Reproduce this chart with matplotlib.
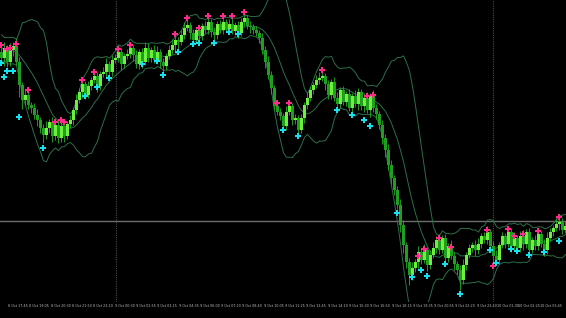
import numpy as np
import pandas as pd
import matplotlib
matplotlib.use('Agg')
import matplotlib.pyplot as plt

# USDJPY M5, closes (one value per bar)
close = [
    109.42, 109.52, 109.38, 109.50, 109.54, 109.38, 109.15, 109.00, 109.05, 108.95,
    108.92, 108.85, 108.80, 108.72, 108.65, 108.72, 108.78, 108.64, 108.75, 108.62,
    108.74, 108.64, 108.76, 108.80, 108.90, 109.00, 109.08, 109.16, 109.05, 109.14,
    109.20, 109.24, 109.14, 109.26, 109.28, 109.36, 109.28, 109.40, 109.42, 109.48,
    109.36, 109.44, 109.46, 109.52, 109.45, 109.36, 109.48, 109.38, 109.52, 109.42,
    109.50, 109.40, 109.48, 109.38, 109.34, 109.44, 109.50, 109.55, 109.60, 109.58,
    109.65, 109.72, 109.75, 109.67, 109.60, 109.70, 109.64, 109.74, 109.70, 109.78,
    109.68, 109.65, 109.76, 109.70, 109.78, 109.71, 109.76, 109.69, 109.75, 109.67,
    109.78, 109.82, 109.74, 109.73, 109.70, 109.67, 109.62, 109.50, 109.38, 109.25,
    109.12, 108.94, 108.88, 108.84, 108.74, 108.88, 108.94, 108.80, 108.82, 108.70,
    108.82, 108.95, 109.02, 109.10, 109.15, 109.20, 109.22, 109.24, 109.16, 109.05,
    109.18, 109.02, 108.96, 109.10, 108.98, 109.06, 108.92, 109.04, 108.96, 109.08,
    108.94, 109.02, 108.90, 109.04, 108.92, 108.86, 108.75, 108.62, 108.50, 108.35,
    108.22, 108.10, 107.95, 107.75, 107.55, 107.38, 107.25, 107.32, 107.38, 107.48,
    107.40, 107.50, 107.35, 107.45, 107.52, 107.60, 107.50, 107.62, 107.42, 107.54,
    107.44, 107.36, 107.30, 107.20, 107.35, 107.45, 107.52, 107.55, 107.50, 107.56,
    107.64, 107.60, 107.68, 107.54, 107.44, 107.40, 107.55, 107.64, 107.56, 107.68,
    107.54, 107.62, 107.52, 107.64, 107.56, 107.68, 107.50, 107.60, 107.54, 107.66,
    107.56, 107.50, 107.62, 107.68, 107.72, 107.76, 107.78, 107.70, 107.74,
]
first_open = 109.48
# closes just before the visible window (only used to warm up the bands)
history_close = [109.52, 109.58, 109.55, 109.62, 109.57, 109.50, 109.54, 109.60,
                 109.52, 109.47, 109.55, 109.50, 109.44, 109.48]

# wick lengths in pips
upper_wick = [
    4, 6, 3, 7, 4, 8, 5, 3, 6, 4,
    3, 5, 6, 3, 4, 7, 3, 5, 6, 4,
    6, 4, 3, 5, 3, 6, 4, 6, 3, 5,
    3, 6, 4, 3, 5, 6, 3, 5, 4, 6,
    4, 3, 5, 6, 3, 5, 3, 4, 6, 5,
    3, 5, 6, 3, 4, 3, 5, 6, 6, 3,
    5, 6, 7, 3, 4, 3, 5, 3, 5, 6,
    3, 5, 3, 4, 6, 3, 5, 6, 3, 4,
    4, 6, 3, 5, 3, 4, 3, 5, 4, 6,
    4, 3, 6, 4, 3, 6, 5, 3, 4, 3,
    4, 3, 6, 4, 3, 5, 6, 6, 3, 4,
    3, 5, 6, 3, 4, 3, 5, 3, 6, 4,
    3, 5, 6, 3, 6, 4, 3, 5, 4, 6,
    5, 3, 4, 6, 5, 3, 4, 6, 3, 6,
    4, 6, 3, 5, 6, 4, 6, 3, 4, 3,
    6, 4, 3, 5, 6, 3, 4, 3, 5, 6,
    3, 4, 6, 3, 5, 6, 3, 4, 3, 6,
    4, 6, 3, 5, 6, 3, 4, 3, 5, 6,
    3, 5, 6, 4, 3, 6, 7, 4, 5,
]
lower_wick = [
    6, 8, 5, 4, 6, 3, 12, 9, 5, 4,
    5, 4, 6, 5, 8, 4, 5, 6, 4, 5,
    4, 6, 3, 4, 5, 4, 3, 6, 4, 3,
    4, 3, 6, 4, 3, 5, 7, 4, 3, 4,
    6, 4, 3, 4, 6, 4, 5, 6, 3, 4,
    4, 3, 4, 6, 7, 4, 3, 4, 6, 7,
    3, 4, 3, 6, 4, 3, 7, 4, 3, 4,
    5, 8, 4, 3, 4, 3, 5, 3, 4, 5,
    3, 4, 3, 6, 4, 3, 5, 4, 6, 4,
    6, 4, 3, 4, 6, 4, 3, 5, 4, 5,
    3, 5, 4, 3, 4, 3, 4, 3, 6, 4,
    4, 3, 6, 4, 3, 4, 3, 5, 3, 6,
    4, 6, 3, 7, 4, 5, 4, 6, 7, 5,
    6, 5, 4, 7, 8, 6, 10, 5, 4, 6,
    4, 3, 6, 4, 3, 5, 4, 3, 6, 4,
    3, 6, 4, 10, 4, 5, 3, 4, 6, 4,
    4, 3, 4, 6, 7, 5, 4, 3, 4, 3,
    6, 4, 3, 4, 6, 4, 5, 3, 4, 4,
    3, 6, 4, 3, 4, 3, 6, 4, 3,
]

# signal arrows (bar index, price)
sell_idx = [0, 2, 3, 5, 9, 18, 20, 21, 27, 31, 39, 43, 58, 62, 66, 69, 74, 77, 81,
            92, 96, 107, 122, 124, 139, 141, 146, 150, 162, 164, 169, 171, 174, 179, 186]
sell_price = [109.55, 109.51, 109.52, 109.56, 109.10, 108.78, 108.80, 108.78, 109.20, 109.28,
              109.51, 109.55, 109.66, 109.82, 109.72, 109.84, 109.84, 109.84, 109.88,
              108.97, 108.97, 109.30, 109.04, 109.05, 107.44, 107.51, 107.62, 107.53,
              107.70, 107.34, 107.71, 107.64, 107.66, 107.69, 107.83]
buy_idx = [0, 1, 2, 4, 6, 14, 28, 32, 36, 47, 52, 54, 59, 64, 66, 71, 76, 79, 94, 99,
           112, 117, 121, 123, 132, 137, 140, 142, 148, 153, 163, 165, 170, 172, 176, 181, 186]
buy_price = [109.37, 109.23, 109.29, 109.29, 108.83, 108.52, 109.04, 109.13, 109.22, 109.36,
             109.39, 109.25, 109.48, 109.56, 109.57, 109.57, 109.68, 109.66, 108.70, 108.64,
             108.90, 108.85, 108.80, 108.74, 107.87, 107.23, 107.30, 107.24, 107.36, 107.06,
             107.50, 107.37, 107.51, 107.49, 107.45, 107.48, 107.59]

level_line = 107.79
day_separators = [38.2, 163.8]
tick_labels = ['8 Oct 17:45', '8 Oct 19:05', '8 Oct 20:30', '8 Oct 21:50', '8 Oct 23:10',
               '9 Oct 00:30', '9 Oct 01:55', '9 Oct 03:15', '9 Oct 04:35', '9 Oct 06:00',
               '9 Oct 07:20', '9 Oct 08:40', '9 Oct 10:05', '9 Oct 11:25', '9 Oct 12:45',
               '9 Oct 14:10', '9 Oct 15:30', '9 Oct 16:50', '9 Oct 18:15', '9 Oct 19:35',
               '9 Oct 20:55', '9 Oct 22:20', '9 Oct 23:40', '10 Oct 01:00', '10 Oct 02:25',
               '10 Oct 03:45']

close = np.array(close)
opens = np.concatenate([[first_open], close[:-1]])
high = np.maximum(opens, close) + np.array(upper_wick) * 0.01
low = np.minimum(opens, close) - np.array(lower_wick) * 0.01
x = np.arange(len(close))

# bollinger bands (period 12, 2.2 dev)
nh = len(history_close)
s = pd.Series(np.concatenate([history_close, close]))
mid = s.rolling(12, min_periods=5).mean().to_numpy()[nh:]
sd = s.rolling(12, min_periods=5).std().to_numpy()[nh:]
upper = mid + 2.2 * sd
lower = mid - 2.2 * sd

fig = plt.figure(figsize=(5.66, 3.18), dpi=100, facecolor='black')
ax = fig.add_axes([0, 16 / 318, 1, 302 / 318], facecolor='black')

for sep in day_separators:
    ax.axvline(sep, color='#4a4a4a', lw=0.8, ls=(0, (1, 1)), zorder=1)
ax.axhline(level_line, color='#6e6e6e', lw=1.0, zorder=1)

ax.plot(x, upper, color='#2d6e48', lw=0.7, zorder=2)
ax.plot(x, mid, color='#2d6e48', lw=0.7, zorder=2)
ax.plot(x, lower, color='#2d6e48', lw=0.7, zorder=2)

bull = close >= opens
ax.vlines(x, low, high, color='#22b022', lw=0.6, zorder=3)
body_h = np.maximum(np.abs(close - opens), 0.008)
ax.bar(x[bull], body_h[bull], bottom=np.minimum(opens, close)[bull], width=0.7,
       color='#6cf03c', lw=0, zorder=4)
ax.bar(x[~bull], body_h[~bull], bottom=np.minimum(opens, close)[~bull], width=0.7,
       color='#1f9e1f', lw=0, zorder=4)

ax.plot(sell_idx, sell_price, 'P', color='#ff2a8c', ms=4, mew=0, zorder=5)
ax.plot(buy_idx, buy_price, 'P', color='#19e0ef', ms=4, mew=0, zorder=5)

ax.set_xlim(-0.5, 188.17)
ax.set_ylim(106.98, 110.00)
ax.set_xticks(np.arange(len(tick_labels)) * 7.1 + 5.5)
ax.set_xticklabels(tick_labels, fontsize=2.4, color='#bbbbbb')
ax.tick_params(axis='x', length=0, pad=1.5)
ax.set_yticks([])
for sp in ax.spines.values():
    sp.set_visible(False)

fig.savefig('out.png', dpi=100, facecolor='black')
